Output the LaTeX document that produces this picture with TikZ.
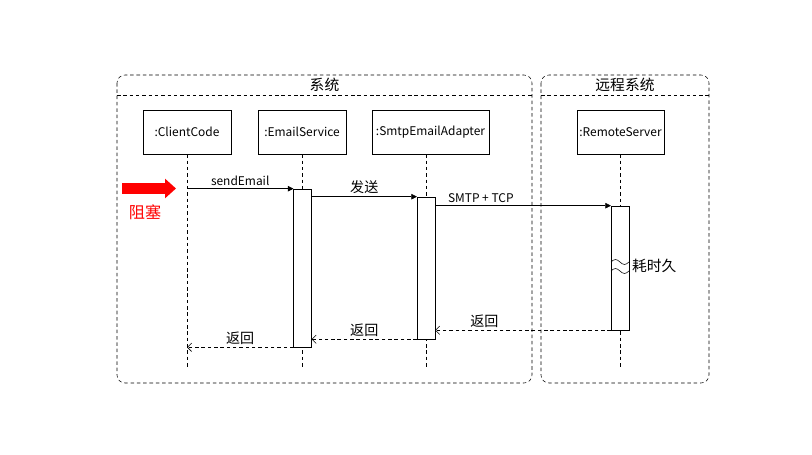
\documentclass[tikz,border=0pt]{standalone}
\usepackage{fontspec}
\setmainfont{Noto Sans CJK SC}
\usetikzlibrary{arrows.meta}

\begin{document}
\begin{tikzpicture}[x=0.25mm,y=-0.25mm,
	obj/.style={draw,thin,fill=white,minimum height=11mm,inner sep=0pt,font=\fontsize{8.5}{10}\selectfont},
	bar/.style={draw,thin,fill=white,minimum width=4.4mm,inner sep=0pt},
	life/.style={thin,dash pattern=on 2.5pt off 2pt},
	frame/.style={thin,dash pattern=on 2.5pt off 2pt,rounded corners=2mm},
	msg/.style={thin,-{Triangle[length=4pt,width=4pt]}},
	ret/.style={thin,dash pattern=on 2.5pt off 2pt,-{Straight Barb[length=3pt,width=6pt]}},
	lbl/.style={font=\fontsize{8.5}{10}\selectfont,above,inner sep=2pt},
	zh/.style={font=\fontsize{10}{12}\selectfont,above,inner sep=2pt},
	block/.style={red,line width=2.75mm,-{Triangle[length=2.75mm,width=4.75mm]}}]

	\useasboundingbox (0,0) rectangle (812,455);

	% frames
	\draw[frame] (117,75) rectangle (532,383);
	\draw[frame] (117,95) -- (532,95);
	\node (sysT)	at	(324.5,85)	[font=\fontsize{10.5}{12}\selectfont]{系统};

	\draw[frame] (541,75) rectangle (709,383);
	\draw[frame] (541,95) -- (709,95);
	\node (remT)	at	(625,85)	[font=\fontsize{10.5}{12}\selectfont]{远程系统};

	% objects
	\node (cc)	at	(187,132)	[obj,minimum width=22mm]{:ClientCode};
	\node (es)	at	(302,132)	[obj,minimum width=22mm]{:EmailService};
	\node (sm)	at	(430.5,132)	[obj,minimum width=29.25mm]{:SmtpEmailAdapter};
	\node (rs)	at	(620.5,132)	[obj,minimum width=21.75mm]{:RemoteServer};

	% lifelines
	\draw[life] (cc.south) -- (cc.south |- 0,367);
	\draw[life] (es.south) -- (es.south |- 0,367);
	\draw[life] ([xshift=-1.1mm]sm.south) -- ([xshift=-1.1mm]sm.south |- 0,367);
	\draw[life] (rs.south) -- (rs.south |- 0,367);

	% activations
	\node (esbar)	at	(302.5,268)	[bar,minimum height=39.5mm]{};
	\node (smbar)	at	(426,268)	[bar,minimum height=35.5mm]{};
	\node (rsbar)	at	(620,268)	[bar,minimum height=31mm]{};

	% calls
	\draw[msg] (cc |- esbar.north) -- node[lbl]{sendEmail} (esbar.north west);
	\draw[msg] (esbar.east |- smbar.north) -- node[zh]{发送} (smbar.north west);
	\draw[msg] (smbar.east |- rsbar.north) -- node[lbl,pos=0.26]{SMTP + TCP} (rsbar.north west);

	% returns
	\draw[ret] (rsbar.south west) -- node[zh,pos=0.72]{返回} (smbar.east |- rsbar.south);
	\draw[ret] (smbar.south west) -- node[zh]{返回} (esbar.east |- smbar.south);
	\draw[ret] (esbar.south west) -- node[zh]{返回} (cc |- esbar.south);

	% long wait
	\draw[thin] (rsbar.west |- 0,262) sin ++(4.5,-2.5) cos ++(4.5,2.5) sin ++(4.5,2.5) cos ++(4.5,-2.5);
	\draw[thin] (rsbar.west |- 0,271) sin ++(4.5,-2.5) cos ++(4.5,2.5) sin ++(4.5,2.5) cos ++(4.5,-2.5);
	\node (slow)	at	(rsbar.east |- 0,266)	[right,inner sep=2pt,font=\fontsize{10.5}{12}\selectfont]{耗时久};

	% blocking
	\coordinate (blkA) at (122,188.5);
	\coordinate (blkB) at (176,188.5);
	\draw[block] (blkA) -- (blkB);
	\node (blk)	at	(145,212)	[red,font=\fontsize{11.5}{13}\selectfont]{阻塞};

\end{tikzpicture}
\end{document}
